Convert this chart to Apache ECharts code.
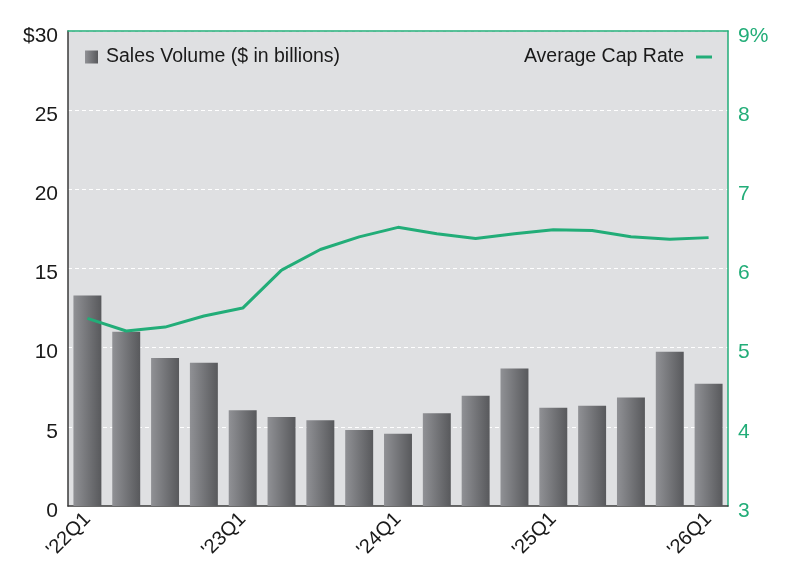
<!DOCTYPE html>
<html>
<head>
<meta charset="utf-8">
<script src="https://cdn.jsdelivr.net/npm/echarts@6/dist/echarts.min.js"></script>
<style>
  html, body { margin: 0; padding: 0; background: #fff; }
  #chart { width: 800px; height: 578px; }
</style>
</head>
<body>
<div id="chart"></div>
<script>
// quarters '22Q1 .. '26Q1
var quarters = [
  "'22Q1", "'22Q2", "'22Q3", "'22Q4",
  "'23Q1", "'23Q2", "'23Q3", "'23Q4",
  "'24Q1", "'24Q2", "'24Q3", "'24Q4",
  "'25Q1", "'25Q2", "'25Q3", "'25Q4",
  "'26Q1"
];
var salesVolume = [13.3, 11.0, 9.35, 9.05, 6.05, 5.62, 5.42, 4.8, 4.57, 5.86, 6.97, 8.68, 6.2, 6.33, 6.86, 9.74, 7.72];
var capRate = [5.37, 5.21, 5.26, 5.40, 5.50, 5.98, 6.24, 6.40, 6.52, 6.44, 6.38, 6.44, 6.49, 6.48, 6.40, 6.37, 6.39];
var shownLabels = ["'22Q1", "'23Q1", "'24Q1", "'25Q1", "'26Q1"];

var green = '#22ad78';
var font = 'Liberation Sans, Arial, sans-serif';

var barGradient = new echarts.graphic.LinearGradient(0, 0, 1, 0, [
  {offset: 0, color: '#909195'},
  {offset: 1, color: '#58595c'}
]);

var chart = echarts.init(document.getElementById('chart'));
chart.setOption({
  animation: false,
  textStyle: { fontFamily: font },
  grid: {
    left: 68, right: 72, top: 31, bottom: 72,
    show: true,
    backgroundColor: '#dfe0e2',
    borderWidth: 0
  },
  legend: [{
    data: [{ name: 'Sales Volume ($ in billions)', icon: 'rect' }],
    left: 80, top: 42,
    itemWidth: 13, itemHeight: 13,
    textStyle: { fontSize: 19.5, color: '#1a1a1a', fontFamily: font, padding: [0, 0, 0, 3] }
  }, {
    data: [{ name: 'Average Cap Rate', icon: 'rect' }],
    right: 83, top: 42,
    align: 'right',
    itemWidth: 16, itemHeight: 3,
    textStyle: { fontSize: 19.5, color: '#1a1a1a', fontFamily: font, padding: [0, 7, 0, 0] }
  }],
  xAxis: [{
    type: 'category',
    data: quarters,
    position: 'bottom',
    axisLine: { lineStyle: { color: '#3a3a3a', width: 1.5 } },
    axisTick: { show: false },
    axisLabel: {
      interval: 0,
      rotate: 45,
      fontSize: 20,
      color: '#1a1a1a',
      margin: 10,
      formatter: function (v) { return shownLabels.indexOf(v) >= 0 ? v : ''; }
    },
    splitLine: { show: false }
  }, {
    type: 'category',
    data: quarters,
    position: 'top',
    axisLine: { lineStyle: { color: green, width: 1.5 } },
    axisTick: { show: false },
    axisLabel: { show: false }
  }],
  yAxis: [{
    type: 'value',
    min: 0, max: 30, interval: 5,
    axisLine: { show: true, lineStyle: { color: '#3a3a3a', width: 1.5 } },
    axisTick: { show: false },
    axisLabel: {
      color: '#1a1a1a',
      margin: 10,
      formatter: function (v) { return '{a|' + (v === 30 ? '$30' : v) + '}'; },
      rich: { a: { fontSize: 21, color: '#1a1a1a', fontFamily: font, padding: [10, 0, 0, 0] } }
    },
    splitLine: { lineStyle: { color: '#ffffff', type: [4, 3], width: 1 } }
  }, {
    type: 'value',
    min: 3, max: 9, interval: 1,
    position: 'right',
    axisLine: { show: true, lineStyle: { color: green, width: 1.5 } },
    axisTick: { show: false },
    axisLabel: {
      color: green,
      margin: 10,
      formatter: function (v) { return '{a|' + (v === 9 ? '9%' : v) + '}'; },
      rich: { a: { fontSize: 21, color: green, fontFamily: font, padding: [10, 0, 0, 0] } }
    },
    splitLine: { show: false }
  }],
  series: [{
    name: 'Sales Volume ($ in billions)',
    type: 'bar',
    data: salesVolume,
    barWidth: '72%',
    itemStyle: { color: barGradient }
  }, {
    name: 'Average Cap Rate',
    type: 'line',
    yAxisIndex: 1,
    data: capRate,
    symbol: 'none',
    lineStyle: { color: green, width: 3 },
    itemStyle: { color: green }
  }]
});
</script>
</body>
</html>
